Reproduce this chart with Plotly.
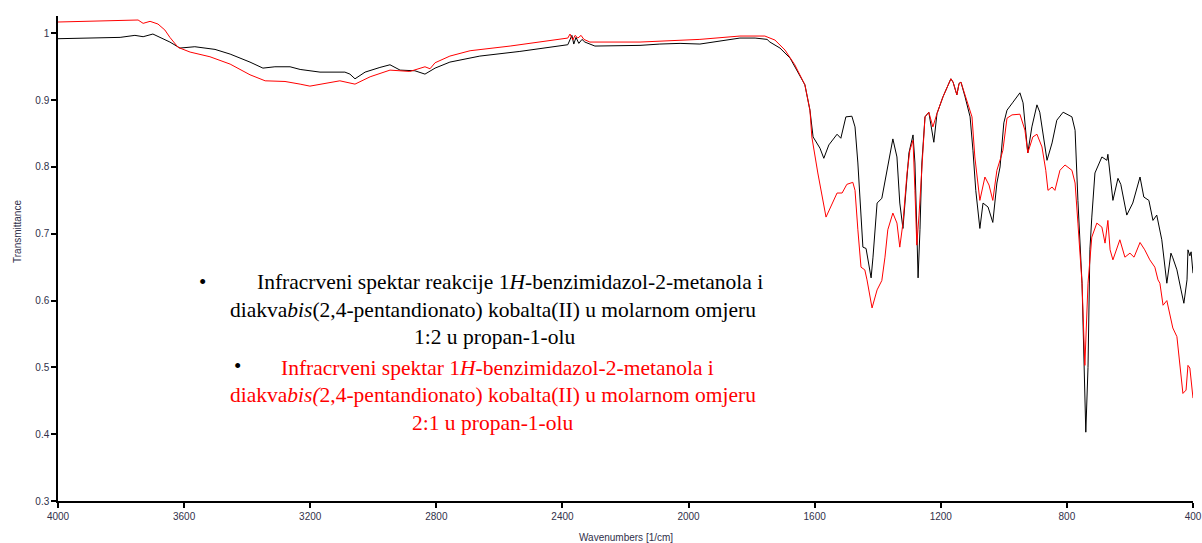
import plotly.graph_objects as go

# --- spectrum 1: reaction 1:2 (black) ---
wn_black = [4000, 3931, 3867, 3803, 3756, 3730, 3699, 3677, 3645, 3613, 3566, 3502, 3454, 3391,
            3350, 3312, 3264, 3232, 3169, 3090, 3074, 3058, 3026, 2979, 2947, 2915, 2868, 2836,
            2804, 2757, 2662, 2535, 2408, 2383, 2370, 2364, 2357, 2348, 2338, 2329, 2297, 2218,
            2154, 2091, 2027, 1964, 1900, 1837, 1789, 1751, 1742, 1710, 1678, 1647, 1631, 1615,
            1605, 1583, 1571, 1555, 1529, 1517, 1501, 1482, 1472, 1463, 1453, 1447, 1437, 1421,
            1415, 1402, 1387, 1371, 1352, 1339, 1330, 1320, 1307, 1301, 1288, 1282, 1276, 1272,
            1266, 1260, 1250, 1238, 1222, 1212, 1193, 1168, 1161, 1149, 1142, 1136, 1123, 1107,
            1098, 1089, 1076, 1066, 1050, 1035, 1022, 1012, 1000, 990, 971, 949, 939, 930, 924,
            911, 895, 886, 876, 863, 847, 832, 812, 784, 774, 765, 752, 740, 733, 727, 721, 711,
            689, 673, 670, 663, 654, 638, 629, 610, 591, 568, 556, 540, 527, 515, 499, 483, 470,
            464, 451, 438, 429, 419, 416, 410, 406, 400]
t_black = [0.992, 0.993, 0.994, 0.994, 0.997, 0.995, 0.999, 0.994, 0.987, 0.978, 0.980, 0.976,
           0.969, 0.957, 0.948, 0.950, 0.950, 0.946, 0.942, 0.942, 0.939, 0.932, 0.942, 0.949,
           0.953, 0.945, 0.944, 0.939, 0.948, 0.957, 0.966, 0.973, 0.981, 0.983, 0.997, 0.984,
           0.994, 0.985, 0.991, 0.987, 0.981, 0.982, 0.982, 0.984, 0.985, 0.984, 0.988, 0.993,
           0.993, 0.991, 0.987, 0.978, 0.963, 0.938, 0.923, 0.885, 0.845, 0.828, 0.813, 0.833,
           0.849, 0.843, 0.875, 0.876, 0.860, 0.806, 0.725, 0.680, 0.678, 0.634, 0.665, 0.746,
           0.753, 0.795, 0.842, 0.815, 0.746, 0.708, 0.795, 0.821, 0.848, 0.806, 0.706, 0.634,
           0.706, 0.806, 0.875, 0.882, 0.837, 0.880, 0.905, 0.932, 0.927, 0.908, 0.925, 0.927,
           0.905, 0.875, 0.825, 0.765, 0.708, 0.746, 0.740, 0.717, 0.776, 0.800, 0.866, 0.885,
           0.897, 0.911, 0.896, 0.855, 0.821, 0.860, 0.893, 0.882, 0.851, 0.810, 0.836, 0.870,
           0.882, 0.875, 0.855, 0.750, 0.626, 0.403, 0.500, 0.676, 0.725, 0.791, 0.815, 0.810,
           0.819, 0.785, 0.750, 0.783, 0.774, 0.728, 0.746, 0.785, 0.755, 0.750, 0.720, 0.728,
           0.691, 0.626, 0.671, 0.664, 0.646, 0.616, 0.596, 0.631, 0.676, 0.667, 0.673, 0.641]

# --- spectrum 2: 2:1 (red) ---
wn_red = [4000, 3931, 3867, 3772, 3746, 3730, 3708, 3683, 3661, 3645, 3619, 3581, 3518, 3454,
          3391, 3343, 3280, 3232, 3201, 3106, 3058, 3010, 2947, 2884, 2836, 2820, 2804, 2757,
          2693, 2566, 2408, 2383, 2376, 2367, 2360, 2351, 2341, 2332, 2313, 2281, 2154, 1964,
          1837, 1758, 1726, 1694, 1663, 1631, 1615, 1609, 1590, 1564, 1545, 1529, 1513, 1498,
          1479, 1472, 1463, 1453, 1441, 1434, 1418, 1402, 1387, 1377, 1368, 1352, 1339, 1330,
          1320, 1307, 1298, 1288, 1282, 1276, 1269, 1260, 1250, 1238, 1225, 1212, 1193, 1168,
          1161, 1149, 1142, 1136, 1117, 1101, 1092, 1076, 1060, 1047, 1035, 1022, 1009, 1003,
          990, 974, 949, 933, 924, 908, 895, 879, 867, 860, 847, 838, 822, 806, 784, 774, 765,
          752, 743, 733, 721, 705, 689, 679, 670, 663, 654, 632, 616, 600, 587, 568, 553, 537,
          521, 511, 505, 495, 483, 473, 464, 451, 441, 432, 422, 416, 410, 400]
t_red = [1.017, 1.018, 1.018, 1.020, 1.020, 1.015, 1.018, 1.014, 1.005, 0.994, 0.979, 0.972,
         0.965, 0.954, 0.938, 0.929, 0.928, 0.924, 0.921, 0.929, 0.924, 0.935, 0.945, 0.943,
         0.950, 0.947, 0.956, 0.966, 0.974, 0.981, 0.991, 0.993, 0.999, 0.990, 0.997, 0.993,
         0.997, 0.991, 0.987, 0.987, 0.987, 0.991, 0.996, 0.996, 0.990, 0.975, 0.953, 0.923,
         0.885, 0.845, 0.791, 0.725, 0.746, 0.761, 0.761, 0.774, 0.777, 0.765, 0.706, 0.650,
         0.646, 0.631, 0.589, 0.616, 0.630, 0.665, 0.706, 0.731, 0.716, 0.680, 0.716, 0.791,
         0.825, 0.840, 0.765, 0.683, 0.728, 0.806, 0.875, 0.882, 0.860, 0.880, 0.905, 0.932,
         0.927, 0.908, 0.925, 0.927, 0.900, 0.875, 0.815, 0.750, 0.785, 0.773, 0.750, 0.795,
         0.815, 0.825, 0.873, 0.878, 0.879, 0.855, 0.821, 0.845, 0.849, 0.830, 0.795, 0.765,
         0.770, 0.765, 0.795, 0.803, 0.795, 0.776, 0.716, 0.626, 0.503, 0.626, 0.695, 0.716,
         0.710, 0.686, 0.720, 0.676, 0.661, 0.691, 0.665, 0.671, 0.665, 0.687, 0.676, 0.661,
         0.650, 0.631, 0.626, 0.593, 0.600, 0.576, 0.559, 0.546, 0.506, 0.461, 0.466, 0.503,
         0.499, 0.454]

x_ticks = [4000, 3600, 3200, 2800, 2400, 2000, 1600, 1200, 800, 400]
y_ticks = [0.3, 0.4, 0.5, 0.6, 0.7, 0.8, 0.9, 1.0]
y_tick_labels = ["0.3", "0.4", "0.5", "0.6", "0.7", "0.8", "0.9", "1"]

black_lines = [
    "Infracrveni spektar reakcije 1<i>H</i>-benzimidazol-2-metanola i",
    "diakva<i>bis</i>(2,4-pentandionato) kobalta(II) u molarnom omjeru",
    "1:2 u propan-1-olu",
]
red_lines = [
    "Infracrveni spektar 1<i>H</i>-benzimidazol-2-metanola i",
    "diakva<i>bis(</i>2,4-pentandionato) kobalta(II) u molarnom omjeru",
    "2:1 u propan-1-olu",
]

W, H = 1202, 543
L, R, T, B = 58, 9, 16, 42


def px(xp):
    return (xp - L) / (W - L - R)


def py(yp):
    return (H - B - yp) / (H - T - B)


fig = go.Figure()
fig.add_trace(go.Scatter(x=wn_black, y=t_black, mode="lines",
                         line=dict(color="#000000", width=1), showlegend=False))
fig.add_trace(go.Scatter(x=wn_red, y=t_red, mode="lines",
                         line=dict(color="#ff0000", width=1), showlegend=False))

tick_font = dict(family="Liberation Sans, Arial", size=10, color="#30304a")
axis_common = dict(showline=True, linecolor="black", linewidth=1.5, mirror=False,
                   ticks="outside", ticklen=5, tickwidth=1.5, tickcolor="black",
                   showgrid=False, zeroline=False, tickfont=tick_font, automargin=False)

fig.update_xaxes(range=[4000, 400], tickvals=x_ticks,
                 ticktext=[str(v) for v in x_ticks], **axis_common)
fig.update_yaxes(range=[0.3, 1.026], tickvals=y_ticks, ticktext=y_tick_labels,
                 **axis_common)

serif = "Liberation Serif, Times New Roman, serif"
annotations = []
black_pos = [(510, 282), (493, 310), (494, 337)]
red_pos = [(497, 368), (493, 395), (492, 423)]
for txt, (xc, yc) in zip(black_lines, black_pos):
    annotations.append(dict(x=px(xc), y=py(yc), xref="paper", yref="paper", text=txt,
                            showarrow=False, xanchor="center", yanchor="middle",
                            font=dict(family=serif, size=21.5, color="black")))
for txt, (xc, yc) in zip(red_lines, red_pos):
    annotations.append(dict(x=px(xc), y=py(yc), xref="paper", yref="paper", text=txt,
                            showarrow=False, xanchor="center", yanchor="middle",
                            font=dict(family=serif, size=21.5, color="#ff0000")))
# bullets
annotations.append(dict(x=px(202), y=py(282), xref="paper", yref="paper", text="•",
                        showarrow=False, xanchor="center", yanchor="middle",
                        font=dict(family=serif, size=21, color="black")))
annotations.append(dict(x=px(237), y=py(366), xref="paper", yref="paper", text="•",
                        showarrow=False, xanchor="center", yanchor="middle",
                        font=dict(family=serif, size=21, color="black")))
# axis titles
annotations.append(dict(x=px(17), y=py(232), xref="paper", yref="paper", text="Transmittance",
                        textangle=-90, showarrow=False, xanchor="center", yanchor="middle",
                        font=dict(family="Liberation Sans, Arial", size=10, color="#30304a")))
annotations.append(dict(x=px(626), y=py(537), xref="paper", yref="paper",
                        text="Wavenumbers [1/cm]", showarrow=False, xanchor="center",
                        yanchor="middle",
                        font=dict(family="Liberation Sans, Arial", size=10, color="#30304a")))

fig.update_layout(width=W, height=H, autosize=False,
                  margin=dict(l=L, r=R, t=T, b=B),
                  paper_bgcolor="white", plot_bgcolor="white",
                  annotations=annotations)

fig.write_html("out.html")
